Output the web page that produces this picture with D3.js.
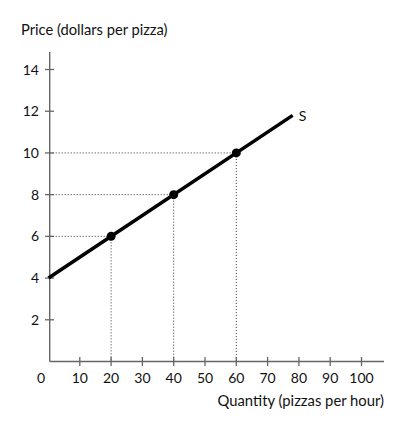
<!DOCTYPE html>
<html><head><meta charset="utf-8">
<script src="https://cdn.jsdelivr.net/npm/d3@7/dist/d3.min.js"></script>
<style>
html,body{margin:0;padding:0;background:#fff;}
text{font-family:Lato,"Open Sans",sans-serif;fill:#111;}
</style></head>
<body><svg id="c" width="406" height="429"></svg>
<script>
const xTicks = [10,20,30,40,50,60,70,80,90,100];
const yTicks = [2,4,6,8,10,12,14];
const supplyLine = [{q:0,p:4},{q:78,p:11.8}];
const points = [{q:20,p:6},{q:40,p:8},{q:60,p:10}];
const xTitle = "Quantity (pizzas per hour)";
const yTitle = "Price (dollars per pizza)";
const curveLabel = "S";

const svg = d3.select("#c");
const x = d3.scaleLinear().domain([0,100]).range([48.5,361.5]);
const y = d3.scaleLinear().domain([0,14]).range([361.5,69.5]);
const axisColor = "#666";
const x0 = 49.7, y0 = 361.5;

// dotted guides
const g = svg.append("g");
points.forEach(d=>{
  g.append("line").attr("x1",x0).attr("x2",x(d.q)).attr("y1",y(d.p)).attr("y2",y(d.p))
   .attr("stroke","#333").attr("stroke-width",1).attr("stroke-dasharray","1,2");
  g.append("line").attr("x1",x(d.q)).attr("x2",x(d.q)).attr("y1",y(d.p)).attr("y2",y0)
   .attr("stroke","#333").attr("stroke-width",1).attr("stroke-dasharray","1,2");
});

// axes
svg.append("line").attr("x1",x0).attr("x2",x0).attr("y1",52).attr("y2",y0)
  .attr("stroke",axisColor).attr("stroke-width",1.4);
svg.append("line").attr("x1",x0).attr("x2",384).attr("y1",y0).attr("y2",y0)
  .attr("stroke",axisColor).attr("stroke-width",1.4);

yTicks.forEach(t=>{
  svg.append("line").attr("x1",45).attr("x2",54).attr("y1",y(t)).attr("y2",y(t))
    .attr("stroke",axisColor).attr("stroke-width",1.3);
  svg.append("text").attr("x",39).attr("y",y(t)+5).attr("text-anchor","end")
    .attr("font-size",14).text(t);
});
xTicks.forEach(t=>{
  svg.append("line").attr("x1",x(t)).attr("x2",x(t)).attr("y1",y0-4.5).attr("y2",y0+4.5)
    .attr("stroke",axisColor).attr("stroke-width",1.3);
  svg.append("text").attr("x",x(t)).attr("y",383).attr("text-anchor","middle")
    .attr("font-size",14).text(t);
});
svg.append("text").attr("x",41).attr("y",383).attr("text-anchor","middle").attr("font-size",14).text("0");

// supply line
svg.append("path").datum(supplyLine)
  .attr("d",d3.line().x(d=>x(d.q)).y(d=>y(d.p)))
  .attr("stroke","#000").attr("stroke-width",3.5).attr("fill","none");
svg.selectAll("circle").data(points).enter().append("circle")
  .attr("cx",d=>x(d.q)).attr("cy",d=>y(d.p)).attr("r",4.5).attr("fill","#000");

svg.append("text").attr("x",x(supplyLine[1].q)+6).attr("y",y(supplyLine[1].p)+6)
  .attr("font-size",14).text(curveLabel);

svg.append("text").attr("x",21).attr("y",35).attr("font-size",14.7).text(yTitle);
svg.append("text").attr("x",384).attr("y",406).attr("text-anchor","end").attr("font-size",14.8).text(xTitle);
</script></body></html>
